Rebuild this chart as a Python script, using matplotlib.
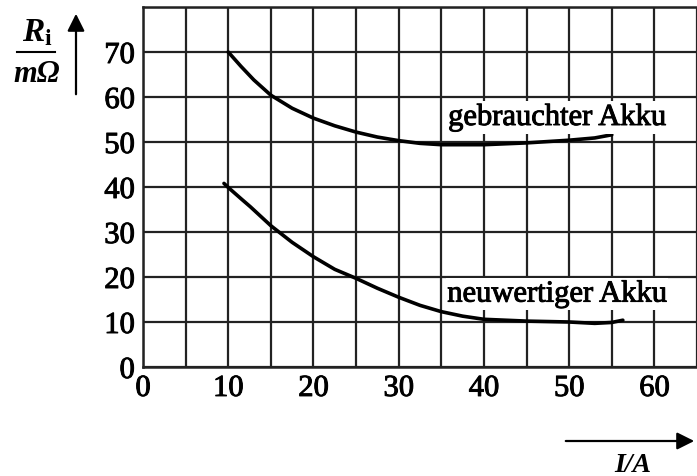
import matplotlib
matplotlib.use("Agg")
import matplotlib.pyplot as plt
import matplotlib.patheffects as pe

# Innenwiderstand R_i (mOhm) über Strom I (A)
used_current = [10, 11.5, 13, 15, 17.5, 20, 22.5, 25, 27.5, 30, 32.5, 35, 40, 45, 50, 53, 55]
used_resistance = [70, 66.8, 63.8, 60.4, 57.5, 55.3, 53.6, 52.2, 51.1, 50.3, 49.7, 49.4, 49.4, 49.8, 50.4, 50.9, 51.6]

new_current = [9.5, 10, 11.5, 12.6, 15, 17.5, 20, 22.5, 25, 27.5, 30, 32.5, 35, 37.5, 40, 45, 50, 53, 55, 56.3]
new_resistance = [40.8, 39.9, 37.4, 35.6, 31.4, 27.7, 24.5, 21.7, 19.7, 17.5, 15.5, 13.7, 12.3, 11.3, 10.6, 10.2, 10.0, 9.7, 9.9, 10.4]

x_ticks = [0, 10, 20, 30, 40, 50, 60]
x_minor = [5, 15, 25, 35, 45, 55, 65]
y_ticks = [0, 10, 20, 30, 40, 50, 60, 70]
y_grid = [80]

SERIF = "Liberation Serif"
plt.rcParams["font.family"] = [SERIF, "DejaVu Serif"]
plt.rcParams["mathtext.fontset"] = "custom"
plt.rcParams["mathtext.rm"] = SERIF
plt.rcParams["mathtext.it"] = SERIF + ":italic:bold"
plt.rcParams["mathtext.bf"] = SERIF + ":bold"

# etwas kräftigere Schrift wie im Original
heavy = [pe.withStroke(linewidth=0.7, foreground="black")]

W, H = 697, 477
fig = plt.figure(figsize=(W / 100, H / 100), dpi=100)
x0_px, y0_px, top_px = 143, 368, 8
px_per_unit = 8.72
ax = fig.add_axes([x0_px / W, 1 - y0_px / H, (W - x0_px) / W, (y0_px - top_px) / H])
ax.set_xlim(0, (W - x0_px) / px_per_unit)
ax.set_ylim(0, 80)

ax.set_xticks(x_ticks)
ax.set_xticks(x_minor, minor=True)
ax.set_yticks(y_ticks)
ax.set_yticks(y_grid, minor=True)
ax.grid(True, which="both", color="#222222", linewidth=1.6)
ax.set_axisbelow(True)
ax.tick_params(which="both", length=0)
ax.tick_params(axis="x", pad=5, labelsize=22)
ax.tick_params(axis="y", pad=6, labelsize=22)
for lab in ax.get_xticklabels() + ax.get_yticklabels():
    lab.set_path_effects(heavy)

ax.spines["right"].set_visible(False)
for side in ("left", "bottom", "top"):
    ax.spines[side].set_linewidth(1.8)
    ax.spines[side].set_color("#222222")

ax.plot(used_current, used_resistance, color="black", linewidth=2.6,
        solid_capstyle="round", solid_joinstyle="round")
ax.plot(new_current, new_resistance, color="black", linewidth=2.6,
        solid_capstyle="round", solid_joinstyle="round")

ax.text(35.8, 55.5, "gebrauchter Akku", fontsize=22, va="center", ha="left",
        path_effects=heavy, bbox=dict(facecolor="white", edgecolor="none", pad=1))
ax.text(35.7, 16.2, "neuwertiger Akku", fontsize=22, va="center", ha="left",
        path_effects=heavy, bbox=dict(facecolor="white", edgecolor="none", pad=1))

# Achsbeschriftungen mit Pfeilen
fig.text(37 / W, 1 - 33 / H, r"$R_\mathbf{i}$", fontsize=24, ha="center", va="center")
fig.add_artist(plt.Line2D([17 / W, 55 / W], [1 - 53 / H, 1 - 53 / H], color="black", linewidth=1.5))
fig.text(37 / W, 1 - 75 / H, "mΩ", fontsize=22, style="italic", fontweight="bold",
         ha="center", va="center")
ax.annotate("", xy=(76, H - 12), xytext=(76, H - 98), xycoords="figure pixels",
            textcoords="figure pixels",
            arrowprops=dict(arrowstyle="-|>", color="black", lw=1.6, mutation_scale=26))

ax.annotate("", xy=(697, H - 442), xytext=(563, H - 442), xycoords="figure pixels",
            textcoords="figure pixels",
            arrowprops=dict(arrowstyle="-|>", color="black", lw=1.6, mutation_scale=26))
fig.text(633 / W, 1 - 466 / H, "I/A", fontsize=20, style="italic", fontweight="bold",
         ha="center", va="center")

fig.savefig("out.png", dpi=100)
